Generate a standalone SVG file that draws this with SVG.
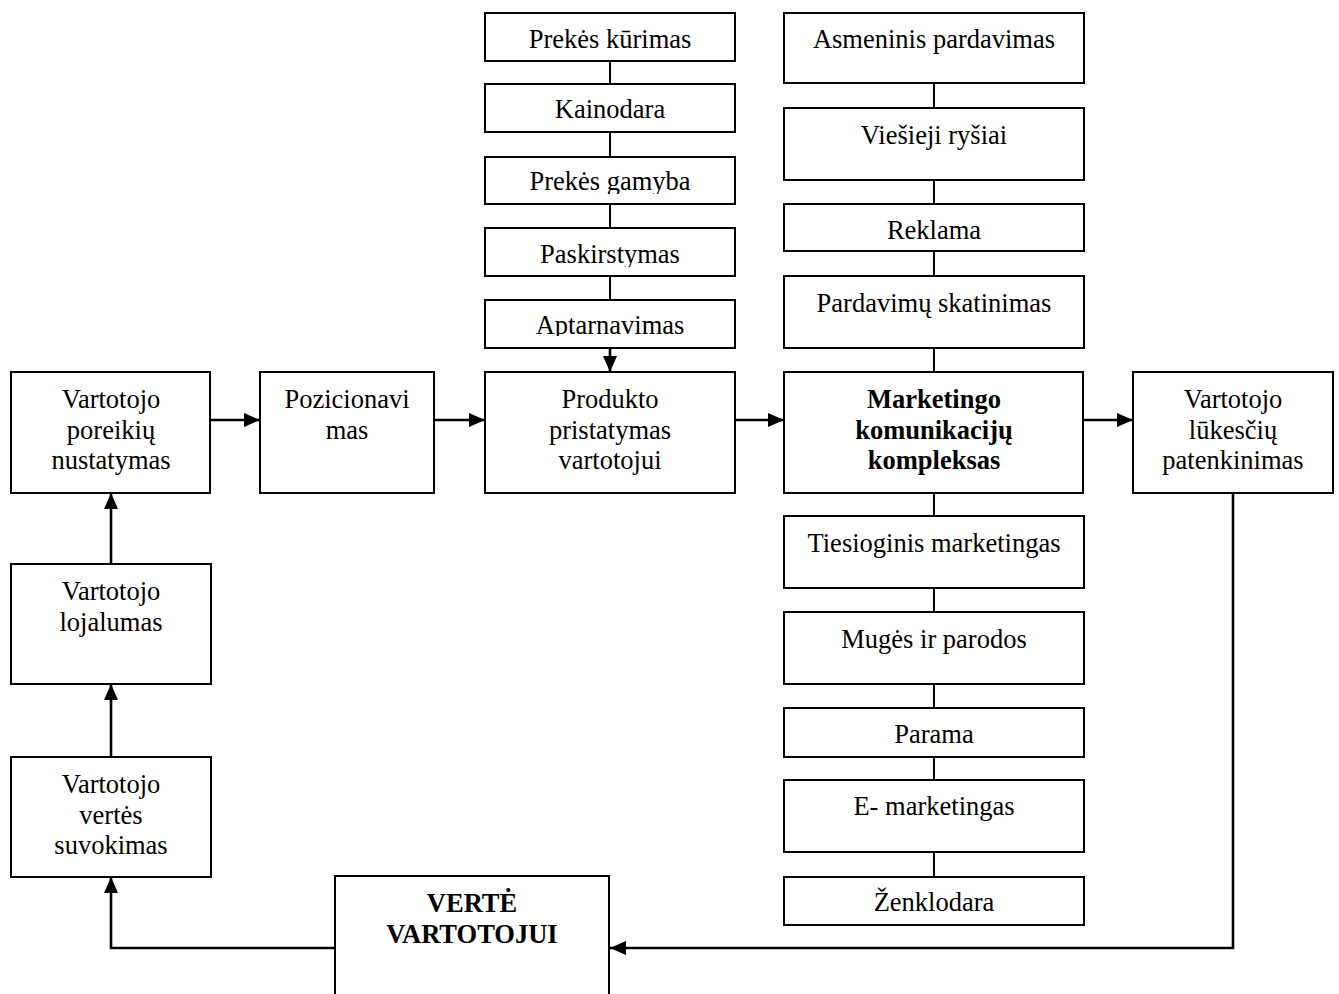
<svg xmlns="http://www.w3.org/2000/svg" width="1339" height="994" viewBox="0 0 1339 994">
  <style>
    .box { fill: #ffffff; stroke: #000000; stroke-width: 2; }
    .t { font-family: "Liberation Serif", "Times New Roman", serif; font-size: 26.5px; fill: #000000; text-anchor: middle; }
    .b { font-weight: bold; }
    .link { fill: none; stroke: #000000; stroke-width: 2; }
    .arrow { fill: none; stroke: #000000; stroke-width: 2.6; marker-end: url(#head); }
  </style>
  <defs>
    <marker id="head" markerUnits="userSpaceOnUse" markerWidth="17" markerHeight="15" refX="16" refY="7" orient="auto">
      <path d="M0,0 L16,7 L0,14 z" fill="#000000"/>
    </marker>
    <!-- inner text areas of the product-mix boxes (descenders get trimmed) -->
    <clipPath id="c1"><rect x="486" y="14" width="249" height="37"/></clipPath>
    <clipPath id="c2"><rect x="486" y="84" width="249" height="38"/></clipPath>
    <clipPath id="c3"><rect x="486" y="158" width="249" height="36"/></clipPath>
    <clipPath id="c4"><rect x="486" y="229" width="249" height="38"/></clipPath>
    <clipPath id="c5"><rect x="486" y="301" width="249" height="35"/></clipPath>
  </defs>

  <rect width="1339" height="994" fill="#ffffff"/>

  <!-- connectors -->
  <g id="connectors">
    <!-- product mix chain -->
    <line class="link" x1="610" y1="61" x2="610" y2="84"/>
    <line class="link" x1="610" y1="132" x2="610" y2="157"/>
    <line class="link" x1="610" y1="204" x2="610" y2="228"/>
    <line class="link" x1="610" y1="276" x2="610" y2="300"/>
    <line class="arrow" x1="610" y1="348" x2="610" y2="372"/>
    <!-- communication chain -->
    <line class="link" x1="934" y1="83" x2="934" y2="108"/>
    <line class="link" x1="934" y1="180" x2="934" y2="204"/>
    <line class="link" x1="934" y1="251" x2="934" y2="276"/>
    <line class="link" x1="934" y1="348" x2="934" y2="372"/>
    <line class="link" x1="934" y1="493" x2="934" y2="516"/>
    <line class="link" x1="934" y1="588" x2="934" y2="612"/>
    <line class="link" x1="934" y1="684" x2="934" y2="708"/>
    <line class="link" x1="934" y1="757" x2="934" y2="780"/>
    <line class="link" x1="934" y1="852" x2="934" y2="877"/>
    <!-- main flow -->
    <line class="arrow" x1="210" y1="420" x2="260" y2="420"/>
    <line class="arrow" x1="434" y1="420" x2="485" y2="420"/>
    <line class="arrow" x1="735" y1="420" x2="784" y2="420"/>
    <line class="arrow" x1="1083" y1="420" x2="1133" y2="420"/>
    <!-- feedback loop -->
    <polyline class="arrow" points="1233,493 1233,948 610,948"/>
    <polyline class="arrow" points="335,948 111,948 111,877"/>
    <line class="arrow" x1="111" y1="757" x2="111" y2="684"/>
    <line class="arrow" x1="111" y1="564" x2="111" y2="493"/>
  </g>

  <!-- product mix column -->
  <g id="prekes-kurimas">
    <rect class="box" x="485" y="13" width="250" height="48"/>
    <text class="t" x="610" y="48" clip-path="url(#c1)">Prekės kūrimas</text>
  </g>
  <g id="kainodara">
    <rect class="box" x="485" y="84" width="250" height="48"/>
    <text class="t" x="610" y="118" clip-path="url(#c2)">Kainodara</text>
  </g>
  <g id="prekes-gamyba">
    <rect class="box" x="485" y="157" width="250" height="47"/>
    <text class="t" x="610" y="190" clip-path="url(#c3)">Prekės gamyba</text>
  </g>
  <g id="paskirstymas">
    <rect class="box" x="485" y="228" width="250" height="48"/>
    <text class="t" x="610" y="263" clip-path="url(#c4)">Paskirstymas</text>
  </g>
  <g id="aptarnavimas">
    <rect class="box" x="485" y="300" width="250" height="48"/>
    <text class="t" x="610" y="334" clip-path="url(#c5)">Aptarnavimas</text>
  </g>

  <!-- communication column -->
  <g id="asmeninis-pardavimas">
    <rect class="box" x="784" y="13" width="300" height="70"/>
    <text class="t" x="934" y="48">Asmeninis pardavimas</text>
  </g>
  <g id="viesieji-rysiai">
    <rect class="box" x="784" y="108" width="300" height="72"/>
    <text class="t" x="934" y="144">Viešieji ryšiai</text>
  </g>
  <g id="reklama">
    <rect class="box" x="784" y="204" width="300" height="47"/>
    <text class="t" x="934" y="239">Reklama</text>
  </g>
  <g id="pardavimu-skatinimas">
    <rect class="box" x="784" y="276" width="300" height="72"/>
    <text class="t" x="934" y="312">Pardavimų skatinimas</text>
  </g>
  <g id="marketingo-kompleksas">
    <rect class="box" x="784" y="372" width="299" height="121"/>
    <text class="t b" x="934" y="408">Marketingo</text>
    <text class="t b" x="934" y="439">komunikacijų</text>
    <text class="t b" x="934" y="469">kompleksas</text>
  </g>
  <g id="tiesioginis-marketingas">
    <rect class="box" x="784" y="516" width="300" height="72"/>
    <text class="t" x="934" y="552">Tiesioginis marketingas</text>
  </g>
  <g id="muges-parodos">
    <rect class="box" x="784" y="612" width="300" height="72"/>
    <text class="t" x="934" y="648">Mugės ir parodos</text>
  </g>
  <g id="parama">
    <rect class="box" x="784" y="708" width="300" height="49"/>
    <text class="t" x="934" y="743">Parama</text>
  </g>
  <g id="e-marketingas">
    <rect class="box" x="784" y="780" width="300" height="72"/>
    <text class="t" x="934" y="815">E- marketingas</text>
  </g>
  <g id="zenklodara">
    <rect class="box" x="784" y="877" width="300" height="48"/>
    <text class="t" x="934" y="911">Ženklodara</text>
  </g>

  <!-- main row -->
  <g id="poreikiu-nustatymas">
    <rect class="box" x="11" y="372" width="199" height="121"/>
    <text class="t" x="111" y="408">Vartotojo</text>
    <text class="t" x="111" y="439">poreikių</text>
    <text class="t" x="111" y="469">nustatymas</text>
  </g>
  <g id="pozicionavimas">
    <rect class="box" x="260" y="372" width="174" height="121"/>
    <text class="t" x="347" y="408">Pozicionavi</text>
    <text class="t" x="347" y="439">mas</text>
  </g>
  <g id="produkto-pristatymas">
    <rect class="box" x="485" y="372" width="250" height="121"/>
    <text class="t" x="610" y="408">Produkto</text>
    <text class="t" x="610" y="439">pristatymas</text>
    <text class="t" x="610" y="469">vartotojui</text>
  </g>
  <g id="lukesciu-patenkinimas">
    <rect class="box" x="1133" y="372" width="200" height="121"/>
    <text class="t" x="1233" y="408">Vartotojo</text>
    <text class="t" x="1233" y="439">lūkesčių</text>
    <text class="t" x="1233" y="469">patenkinimas</text>
  </g>

  <!-- left column -->
  <g id="lojalumas">
    <rect class="box" x="11" y="564" width="200" height="120"/>
    <text class="t" x="111" y="600">Vartotojo</text>
    <text class="t" x="111" y="631">lojalumas</text>
  </g>
  <g id="vertes-suvokimas">
    <rect class="box" x="11" y="757" width="200" height="120"/>
    <text class="t" x="111" y="793">Vartotojo</text>
    <text class="t" x="111" y="824">vertės</text>
    <text class="t" x="111" y="854">suvokimas</text>
  </g>

  <!-- value box, runs off the lower edge -->
  <g id="verte-vartotojui">
    <rect class="box" x="335" y="876" width="274" height="140"/>
    <text class="t b" x="472" y="912">VERTĖ</text>
    <text class="t b" x="472" y="943">VARTOTOJUI</text>
  </g>
</svg>
